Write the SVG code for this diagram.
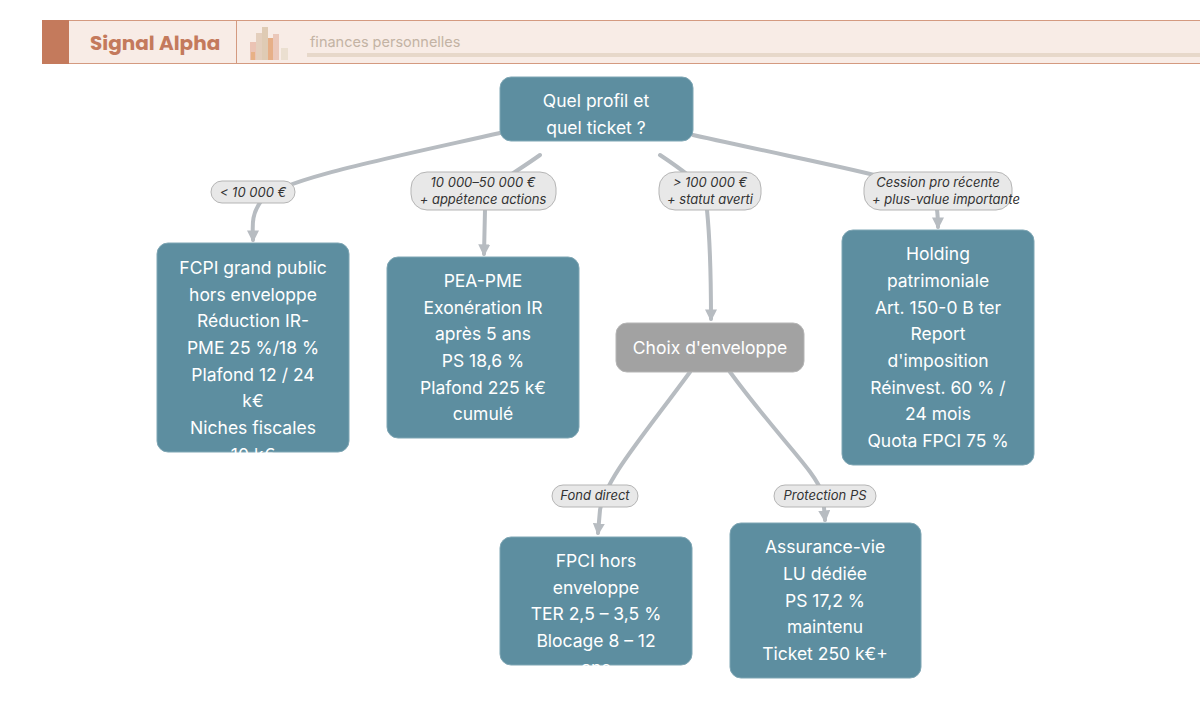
<svg xmlns="http://www.w3.org/2000/svg" width="1200" height="721" viewBox="0 0 1200 721">
<defs>
<style>
.n{fill:#5d8ea0;stroke:#7fa6b4;stroke-width:1}
.g{fill:#a2a2a2;stroke:#b5b5b5;stroke-width:1}
.t{font-family:Inter,"Liberation Sans",sans-serif;font-size:17.5px;fill:#fff;text-anchor:middle}
.e{fill:none;stroke:#b7bcc1;stroke-width:4;stroke-linecap:round}
.p{fill:#e8e8e8;stroke:#b5b5b5;stroke-width:1}
.l{font-family:Inter,"Liberation Sans",sans-serif;font-size:13px;font-style:italic;fill:#333;text-anchor:middle}
</style>
<marker id="a" viewBox="0 0 10 10" refX="8" refY="5" markerWidth="3" markerHeight="3" orient="auto"><path d="M0,0L10,5L0,10z" fill="#b7bcc1"/></marker>
</defs>
<rect width="1200" height="721" fill="#fff"/>
<g id="header">
<rect x="42" y="20" width="1160" height="44" fill="#f8ece6"/>
<line x1="42" y1="20.5" x2="1200" y2="20.5" stroke="#d49a80" stroke-width="1"/>
<line x1="42" y1="63.5" x2="1200" y2="63.5" stroke="#d49a80" stroke-width="1"/>
<rect x="42" y="20" width="27" height="44" fill="#c47a5c"/>
<text x="90" y="50" font-family="Poppins,'Noto Sans','Liberation Sans',sans-serif" font-size="20" font-weight="bold" fill="#c47a5c">Signal Alpha</text>
<line x1="236.5" y1="20" x2="236.5" y2="64" stroke="#d49a80"/>
<g opacity="0.8">
<rect x="250" y="42" width="6" height="18" fill="#e8b9a8"/><rect x="256" y="33" width="6" height="27" fill="#e0c9b4"/>
<rect x="262" y="27" width="6" height="33" fill="#d9c3a8"/><rect x="268" y="38" width="5" height="22" fill="#e2a070"/>
<rect x="273" y="34" width="6" height="26" fill="#e9c0b0"/><rect x="281" y="48" width="7" height="12" fill="#e8dccb"/>
<rect x="251" y="52" width="4" height="8" fill="#e4a36f"/>
</g>
<text x="310" y="47" font-family="Inter,'Liberation Sans',sans-serif" font-size="14.5" fill="#c3b3a4">finances personnelles</text>
<rect x="307" y="53" width="893" height="4" fill="#e7d8ca"/>
</g>
<g id="connectors">
<path class="e" d="M500,133 C380,160 280,180 262,200 C250,215 253,228 253,240" marker-end="url(#a)"/>
<path class="e" d="M540,155 C505,180 487,185 485,210 L484,254" marker-end="url(#a)"/>
<path class="e" d="M660,155 C690,175 705,185 707,210 C711,250 711,290 711,319" marker-end="url(#a)"/>
<path class="e" d="M693,135 C850,170 920,180 935,200 C938,210 938,218 938,227" marker-end="url(#a)"/>
<path class="e" d="M690,372 C640,440 605,480 600,510 L598,533" marker-end="url(#a)"/>
<path class="e" d="M730,372 C780,440 815,470 823,495 L825,520" marker-end="url(#a)"/>
<rect class="p" x="211" y="181" width="84" height="22" rx="11"/><text class="l" x="253" y="197">&lt; 10 000 €</text>
<rect class="p" x="411" y="172" width="145" height="38" rx="16"/><text class="l" x="483" y="187">10 000–50 000 €</text><text class="l" x="483" y="204">+ appétence actions</text>
<rect class="p" x="659" y="172" width="102" height="38" rx="16"/><text class="l" x="710" y="187">&gt; 100 000 €</text><text class="l" x="710" y="204">+ statut averti</text>
<rect class="p" x="864" y="172" width="148" height="38" rx="16"/><text class="l" x="938" y="187">Cession pro récente</text><text class="l" x="946" y="204">+ plus-value importante</text>
<rect class="p" x="552" y="485" width="86" height="22" rx="11"/><text class="l" x="595" y="500">Fond direct</text>
<rect class="p" x="774" y="485" width="102" height="22" rx="11"/><text class="l" x="825" y="500">Protection PS</text>
</g>
<g id="root"><rect class="n" x="500" y="77" width="193" height="64" rx="11"/>
<text class="t" x="596" y="107">Quel profil et</text><text class="t" x="596" y="134">quel ticket ?</text></g>
<g id="fcpi"><rect class="n" x="157" y="243" width="192" height="209" rx="11"/>
<text class="t" x="253" y="274">FCPI grand public</text><text class="t" x="253" y="301">hors enveloppe</text><text class="t" x="253" y="327">Réduction IR-</text><text class="t" x="253" y="354">PME 25 %/18 %</text><text class="t" x="253" y="381">Plafond 12 / 24</text><text class="t" x="253" y="407">k€</text><text class="t" x="253" y="434">Niches fiscales</text><text class="t" x="253" y="461">10 k€</text></g>
<g id="pea"><rect class="n" x="387" y="257" width="192" height="181" rx="11"/>
<text class="t" x="483" y="287">PEA-PME</text><text class="t" x="483" y="314">Exonération IR</text><text class="t" x="483" y="340">après 5 ans</text><text class="t" x="483" y="367">PS 18,6 %</text><text class="t" x="483" y="394">Plafond 225 k€</text><text class="t" x="483" y="420">cumulé</text></g>
<g id="choix"><rect class="g" x="616" y="323" width="188" height="49" rx="11"/>
<text class="t" x="710" y="354">Choix d'enveloppe</text></g>
<g id="holding"><rect class="n" x="842" y="230" width="192" height="235" rx="11"/>
<text class="t" x="938" y="260">Holding</text><text class="t" x="938" y="287">patrimoniale</text><text class="t" x="938" y="314">Art. 150-0 B ter</text><text class="t" x="938" y="340">Report</text><text class="t" x="938" y="367">d'imposition</text><text class="t" x="938" y="394">Réinvest. 60 % /</text><text class="t" x="938" y="420">24 mois</text><text class="t" x="938" y="447">Quota FPCI 75 %</text></g>
<g id="fpci"><rect class="n" x="500" y="537" width="192" height="128" rx="11"/>
<text class="t" x="596" y="567">FPCI hors</text><text class="t" x="596" y="594">enveloppe</text><text class="t" x="596" y="620">TER 2,5 – 3,5 %</text><text class="t" x="596" y="647">Blocage 8 – 12</text><text class="t" x="596" y="674">ans</text></g>
<g id="av"><rect class="n" x="730" y="523" width="191" height="155" rx="11"/>
<text class="t" x="825" y="553">Assurance-vie</text><text class="t" x="825" y="580">LU dédiée</text><text class="t" x="825" y="607">PS 17,2 %</text><text class="t" x="825" y="633">maintenu</text><text class="t" x="825" y="660">Ticket 250 k€+</text></g>
</svg>
